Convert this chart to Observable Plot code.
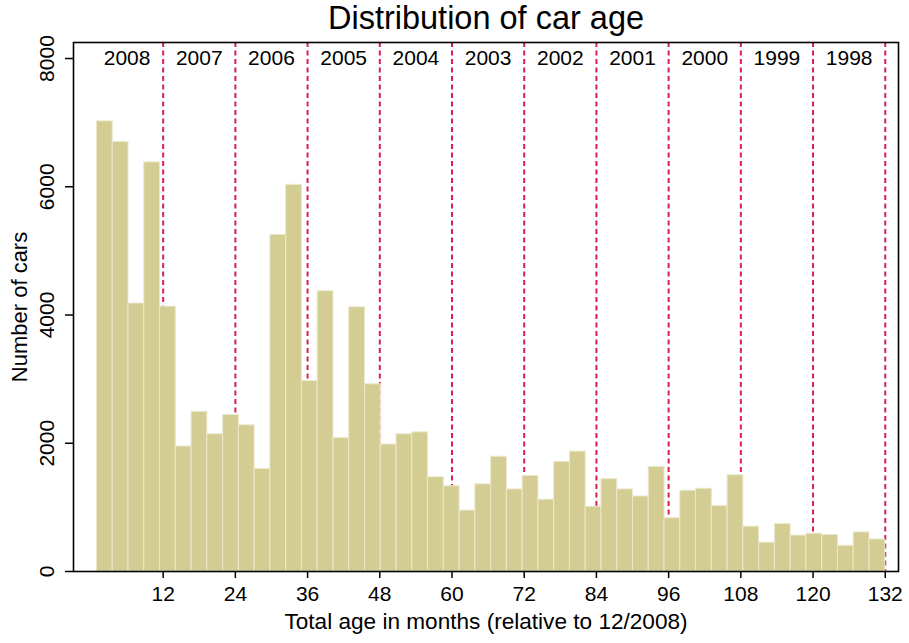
<!DOCTYPE html>
<html>
<head>
<meta charset="utf-8">
<script src="https://cdn.jsdelivr.net/npm/d3@7"></script>
<script src="https://cdn.jsdelivr.net/npm/@observablehq/plot@0.6"></script>
<style>
  html, body { margin: 0; padding: 0; background: #fff; }
  #chart svg { display: block; overflow: visible; }
</style>
</head>
<body>
<div id="chart"></div>
<script>
// Counts of cars per histogram bin (50 bins from 1 to 132 months)
const counts = [
  7020, 6700, 4180, 6380, 4130, 1950, 2490, 2140, 2440, 2280,
  1600, 5250, 6030, 2970, 4370, 2080, 4120, 2920, 1980, 2140,
  2170, 1470, 1330, 950, 1360, 1790, 1280, 1490, 1120, 1710,
  1870, 1010, 1440, 1280, 1170, 1630, 830, 1260, 1290, 1020,
  1500, 700, 450, 740, 560, 590, 570, 400, 610, 500
];
const binMin = 1;
const binMax = 132;
// Year boundaries (dashed lines) and year labels
const boundaryMonths = [12, 24, 36, 48, 60, 72, 84, 96, 108, 120, 132];
const yearLabels = ["2008", "2007", "2006", "2005", "2004", "2003", "2002", "2001", "2000", "1999", "1998"];
const yearLabelMonths = [6, 18, 30, 42, 54, 66, 78, 90, 102, 114, 126];
const xTicks = [12, 24, 36, 48, 60, 72, 84, 96, 108, 120, 132];
const yTicks = [0, 2000, 4000, 6000, 8000];
const yearLabelY = 8000;

const binW = (binMax - binMin) / counts.length;
const bins = counts.map((c, i) => ({x1: binMin + i * binW, x2: binMin + (i + 1) * binW, count: c}));
const labels = yearLabels.map((t, i) => ({month: yearLabelMonths[i], text: t, y: yearLabelY}));

const font = "'Liberation Sans', Arial, Helvetica, sans-serif";

const chart = Plot.plot({
  width: 909,
  height: 643,
  marginLeft: 73,
  marginRight: 11,
  marginTop: 42,
  marginBottom: 72,
  style: {fontFamily: font, fontSize: "21px", color: "#000", background: "#fff"},
  x: {domain: [-2.9, 134.2]},
  y: {domain: [0, 8250]},
  marks: [
    Plot.ruleX(boundaryMonths, {stroke: "#d6204e", strokeWidth: 2, strokeDasharray: "5,3.5"}),
    Plot.rectY(bins, {x1: "x1", x2: "x2", y: "count", fill: "#d3cd94", stroke: "#ebe8cc", strokeWidth: 1}),
    Plot.text(labels, {x: "month", y: "y", text: "text", fontSize: 21, fill: "#000"}),
    Plot.frame({stroke: "#000", strokeWidth: 1.6}),
    Plot.axisX({ticks: xTicks, tickSize: 7, tickPadding: 8, tickFormat: d => String(d), label: null, fontSize: 21, stroke: "#000", strokeWidth: 1.5}),
    Plot.axisX({ticks: [], label: "Total age in months (relative to 12/2008)", labelAnchor: "center", labelOffset: 57, labelArrow: "none", fontSize: 22.6}),
    Plot.axisY({ticks: yTicks, tickSize: 8, tickPadding: 12, tickRotate: -90, tickFormat: d => String(d), label: null, fontSize: 21, stroke: "#000", strokeWidth: 1.5}),
    Plot.axisY({ticks: [], label: "Number of cars", labelAnchor: "center", labelOffset: 62, labelArrow: "none", fontSize: 22}),
    Plot.text(["Distribution of car age"], {frameAnchor: "top", dy: -24, lineAnchor: "middle", fontSize: 32.5, fill: "#000"})
  ]
});
document.getElementById("chart").appendChild(chart);
</script>
</body>
</html>
